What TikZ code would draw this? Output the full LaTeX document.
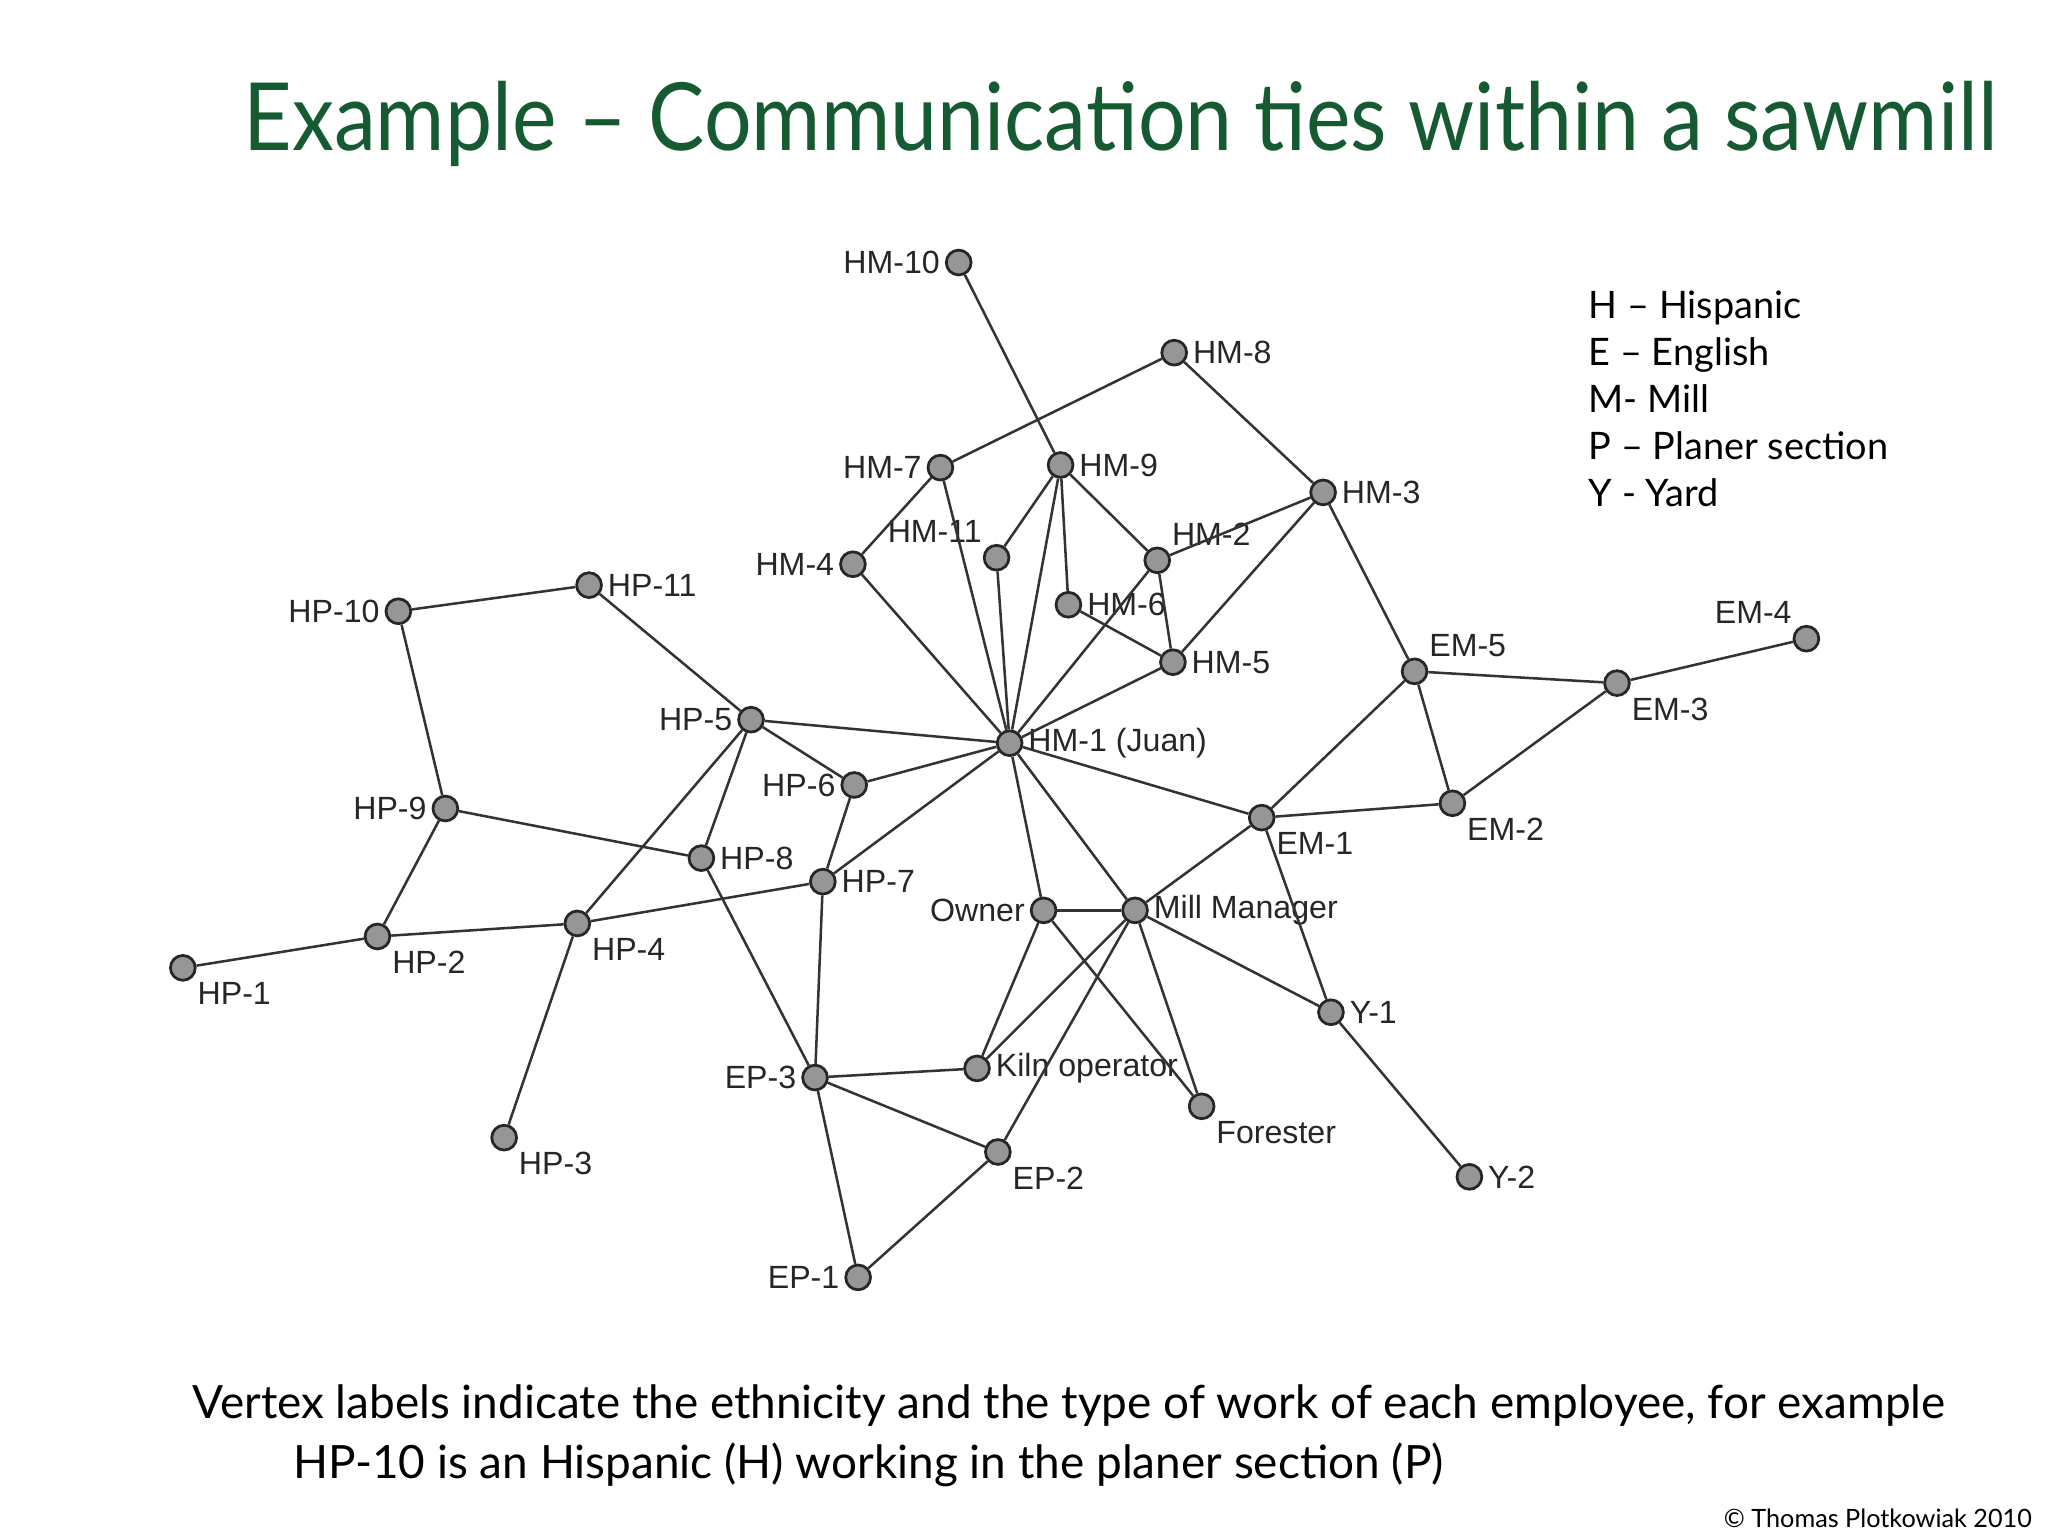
\documentclass[tikz,border=0pt]{standalone}
\usepackage{fontspec}
\setmainfont{Lato}
\newfontfamily\hfont{Liberation Sans}
\definecolor{titlegreen}{RGB}{22,90,50}
\definecolor{vfill}{RGB}{150,150,150}
\begin{document}
\begin{tikzpicture}[x=0.02cm,y=-0.02cm,
  v/.style={circle,draw=black!85,line width=1.2pt,fill=vfill,minimum size=0.38cm,inner sep=0pt},
  lbl/.style={font=\hfont\fontsize{14}{16}\selectfont,text=black!85,inner sep=2pt},
  e/.style={line width=1.1pt,black!80}]
\useasboundingbox (0,0) rectangle (1568,1176);
\node[anchor=west,text=titlegreen,font=\fontsize{41}{46}\selectfont,inner sep=0pt] (title) at (186,95) {\scalebox{0.895}[1]{Example -- Communication ties within a sawmill}};
\foreach \n/\x/\y/\p/\t in {
 hm10/734/201/left/HM-10, hm8/899/270/right/HM-8, hm7/720/358/left/HM-7, hm9/812/356/right/HM-9,
 hm3/1013/377/right/HM-3, hm11/763/427/above left/HM-11, hm2/886/429/above right/HM-2, hm4/653/432/left/HM-4,
 hm6/818/463/right/HM-6, hm5/898/507/right/HM-5, hp11/451/448/right/HP-11, hp10/305/468/left/HP-10,
 hp5/575/551/left/HP-5, hm1/773/569/right/{HM-1 (Juan)}, em5/1083/514/above right/EM-5, em3/1238/523/below right/EM-3,
 em4/1383/489/above left/EM-4, em2/1112/615/below right/EM-2, em1/966/626/below right/EM-1, hp6/654/601/left/HP-6,
 hp9/341/619/left/HP-9, hp8/537/657/right/HP-8, hp7/630/675/right/HP-7, owner/799/697/left/Owner,
 mm/869/697/right/Mill Manager, hp4/442/707/below right/HP-4, hp2/289/717/below right/HP-2, hp1/140/741/below right/HP-1,
 y1/1019/775/right/Y-1, kiln/748/818/right/Kiln operator, ep3/624/825/left/EP-3, forester/920/847/below right/Forester,
 hp3/386/871/below right/HP-3, ep2/764/882/below right/EP-2, y2/1125/901/right/Y-2, ep1/657/978/left/EP-1}
 \node[v,label={[lbl]\p:\t}] (\n) at (\x,\y) {};
\foreach \a/\b in {hm10/hm9,hm8/hm7,hm8/hm3,hm7/hm4,hm7/hm1,hm9/hm11,hm9/hm6,hm9/hm2,hm9/hm1,hm11/hm1,
 hm2/hm3,hm2/hm5,hm3/hm5,hm3/em5,hm6/hm5,hm1/hm2,hm1/hm5,hm4/hm1,hp10/hp11,hp10/hp9,hp11/hp5,
 hp5/hm1,hp5/hp6,hp5/hp8,hp5/hp4,hp6/hm1,hp6/hp7,hp7/hm1,hp7/hp4,hp7/ep3,hp9/hp8,hp9/hp2,hp8/ep3,
 hp2/hp1,hp2/hp4,hp4/hp3,ep3/kiln,ep3/ep2,ep3/ep1,ep1/ep2,ep2/mm,owner/mm,owner/kiln,owner/forester,owner/hm1,
 mm/kiln,mm/forester,mm/y1,mm/em1,mm/hm1,em1/em5,em1/em2,em1/y1,em1/hm1,em5/em3,em5/em2,em2/em3,em3/em4,y1/y2}
 \draw[e] (\a) -- (\b);
\node[anchor=north west,align=left,font=\fontsize{16.5}{20.5}\selectfont,inner sep=0pt] (legend) at (1216,222)
 {H -- Hispanic\\E -- English\\M- Mill\\P -- Planer section\\Y - Yard};
\node[anchor=north west,align=left,font=\fontsize{20}{26}\selectfont,inner sep=0pt] (cap) at (147,1060)
 {Vertex labels indicate the ethnicity and the type of work of each employee, for example\\
 \hspace*{1.55cm}HP-10 is an Hispanic (H) working in the planer section (P)};
\node[anchor=south east,font=\fontsize{11}{13}\selectfont,inner sep=0pt] (copy) at (1556,1170) {\copyright{} Thomas Plotkowiak 2010};
\end{tikzpicture}
\end{document}
